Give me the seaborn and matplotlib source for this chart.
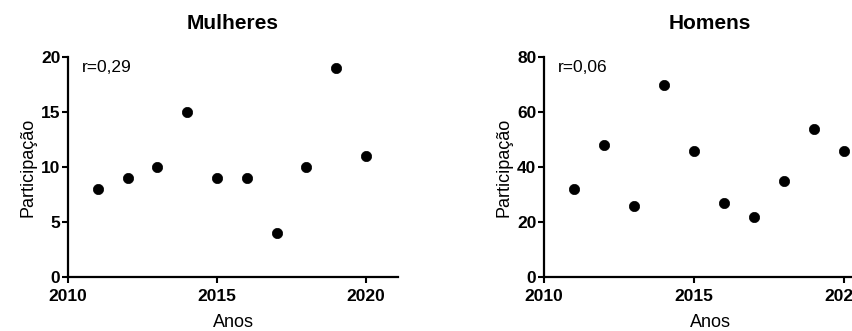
import matplotlib
matplotlib.use("Agg")
import matplotlib.pyplot as plt
import seaborn as sns
import pandas as pd

years = [2011, 2012, 2013, 2014, 2015, 2016, 2017, 2018, 2019, 2020]
mulheres = [8, 9, 10, 15, 9, 9, 4, 10, 19, 11]
homens = [32, 48, 26, 70, 46, 27, 22, 35, 54, 46]
titles = ["Mulheres", "Homens"]
r_labels = ["r=0,29", "r=0,06"]
yticks_list = [[0, 5, 10, 15, 20], [0, 20, 40, 60, 80]]
ylims = [(0, 20), (0, 80)]
xticks = [2010, 2015, 2020]

sns.set_theme(style="ticks")
plt.rcParams["font.family"] = ["Liberation Sans", "DejaVu Sans"]
plt.rcParams.update({"text.color": "black", "axes.labelcolor": "black",
                     "xtick.color": "black", "ytick.color": "black",
                     "xtick.labelcolor": "black", "ytick.labelcolor": "black"})

fig = plt.figure(figsize=(8.53, 3.31), dpi=100)
W, H = 853, 331
axes_px = [(68, 330), (544, 332)]
top_px, bot_px = 57, 277

for i, (vals, (x0, w)) in enumerate(zip([mulheres, homens], axes_px)):
    ax = fig.add_axes([x0 / W, (H - bot_px) / H, w / W, (bot_px - top_px) / H])
    df = pd.DataFrame({"Anos": years, "Participação": vals})
    sns.scatterplot(data=df, x="Anos", y="Participação", ax=ax,
                    color="black", s=55, edgecolor="black", linewidth=0.5, clip_on=False)
    ax.set_xlim(2010, 2021.07)
    ax.set_ylim(*ylims[i])
    ax.set_xticks(xticks)
    ax.set_yticks(yticks_list[i])
    for lab in ax.get_xticklabels() + ax.get_yticklabels():
        lab.set_fontweight("bold")
        lab.set_fontsize(12.5)
        lab.set_color("black")
    ax.tick_params(axis="both", width=1.5, length=4.5, color="black")
    ax.tick_params(axis="x", pad=4)
    ax.tick_params(axis="y", pad=1)
    for side in ["left", "bottom"]:
        ax.spines[side].set_linewidth(1.6)
        ax.spines[side].set_color("black")
    sns.despine(ax=ax)
    ax.set_xlabel("Anos", fontsize=13, labelpad=7, color="black")
    ax.set_ylabel("Participação", fontsize=13, labelpad=3, color="black")
    ax.set_title(titles[i], fontsize=15, fontweight="bold", pad=20, color="black")
    ax.text(0.043, 0.95, r_labels[i], transform=ax.transAxes, fontsize=12.5,
            va="center", ha="left", color="black")

fig.savefig("out.png", dpi=100)
